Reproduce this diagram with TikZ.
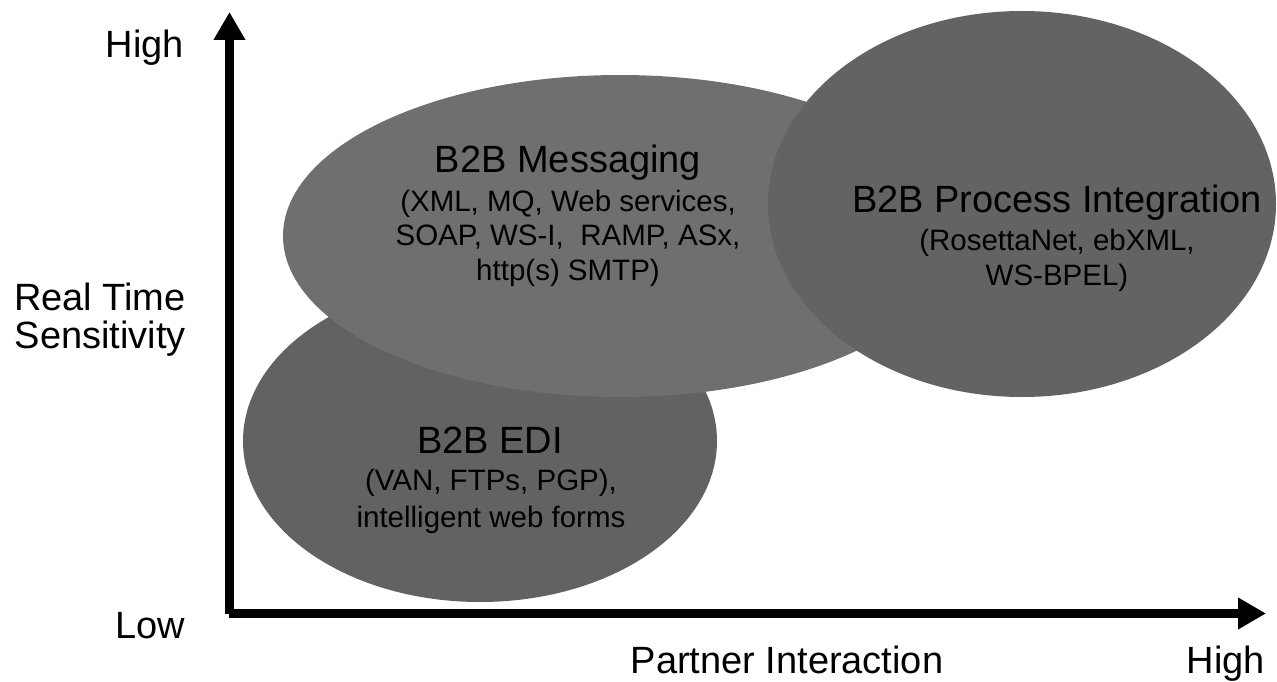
\documentclass[tikz,border=0pt]{standalone}
\usepackage{fontspec}
\setmainfont{Liberation Sans}
\usetikzlibrary{arrows.meta,shapes.geometric}

\definecolor{ediGray}{RGB}{98,98,98}
\definecolor{msgGray}{RGB}{111,111,111}
\definecolor{procGray}{RGB}{99,99,99}

\tikzset{
  blob/.style={ellipse, draw=none, inner sep=0pt},
  titletext/.style={font=\fontsize{38}{44}\selectfont, anchor=base, inner sep=0pt},
  subtext/.style={font=\fontsize{29.5}{#1}\selectfont, align=center, anchor=base, inner sep=0pt},
  subtext/.default=35.5,
  axislabel/.style={font=\fontsize{38}{38}\selectfont, inner sep=0pt},
  axis/.style={line width=9pt, -{Triangle[width=30pt,length=28pt]}}
}

\begin{document}
\begin{tikzpicture}[x=1pt,y=-1pt]
  \useasboundingbox (0,0) rectangle (1277,682);

  % Regions, back to front
  \node[blob, fill=ediGray, minimum width=474pt, minimum height=322pt] (edi) at (480,441) {};
  \node[blob, fill=msgGray, minimum width=674pt, minimum height=322pt] (msg) at (620,236) {};
  \node[blob, fill=procGray, minimum width=508pt, minimum height=386pt] (proc) at (1022,204) {};

  % Region texts (multi-line nodes sit on the baseline of their last line)
  \node[titletext] (msgTitle) at (568,172) {B2B Messaging};
  \node[subtext=34.5] (msgSub) at (568,280) {(XML, MQ, Web services,\\SOAP, WS-I,\ \ RAMP, ASx,\\http(s) SMTP)};

  \node[titletext] (procTitle) at (1057,212) {B2B Process Integration};
  \node[subtext=35] (procSub) at (1057,285) {(RosettaNet, ebXML,\\WS-BPEL)};

  \node[titletext] (ediTitle) at (490,453) {B2B EDI};
  \node[subtext=37] (ediSub) at (491,527) {(VAN, FTPs, PGP),\\intelligent web forms};

  % Axes (the two bars meet with butt ends, leaving the small corner notch)
  \coordinate (ybase) at (229.5,614);
  \coordinate (xbase) at (229,613.5);
  \coordinate (ytip) at (229.5,12);
  \coordinate (xtip) at (1266,613.5);
  \draw[axis] (ybase) -- (ytip);
  \draw[axis] (xbase) -- (xtip);

  % Axis labels
  \node[axislabel, anchor=base east] (yHigh) at (184,58) {High};
  \node[axislabel, anchor=base east, align=right] (yName) at (186,348) {Real Time\\Sensitivity};
  \node[axislabel, anchor=base east] (yLow) at (185,638) {Low};
  \node[axislabel, anchor=base] (xName) at (787,673) {Partner Interaction};
  \node[axislabel, anchor=base] (xHigh) at (1226,673) {High};
\end{tikzpicture}
\end{document}
